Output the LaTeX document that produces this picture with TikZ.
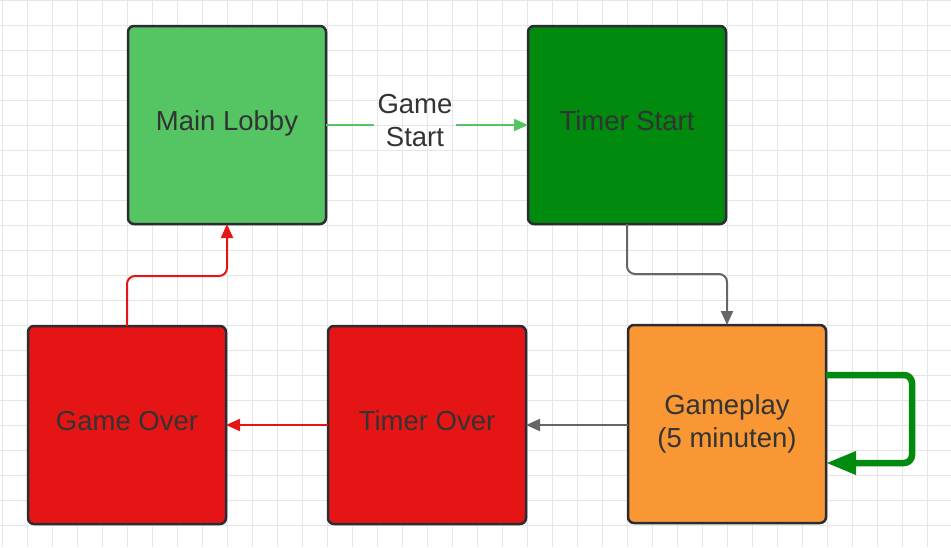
\documentclass[tikz,border=0pt]{standalone}
\usepackage{fontspec}
\setmainfont{Liberation Sans}
\usetikzlibrary{arrows.meta}
\definecolor{lobbygreen}{HTML}{55C463}
\definecolor{startgreen}{HTML}{008A0E}
\definecolor{overred}{HTML}{E51515}
\definecolor{playorange}{HTML}{F99734}
\definecolor{boxedge}{HTML}{2B2B33}
\definecolor{txtgray}{HTML}{333333}
\definecolor{linkgray}{HTML}{666666}
\definecolor{gridgray}{HTML}{E6E6E6}
\begin{document}
\begin{tikzpicture}[x=1pt,y=-1pt,
  lbl/.style={text=txtgray,align=center,font=\fontsize{27.5}{33}\selectfont},
  state/.style={lbl,draw=boxedge,line width=2.5pt,rounded corners=6pt,minimum size=198pt,
    inner sep=0pt,outer sep=0pt},
  oneline/.style={text depth=8pt},
  link/.style={line width=2pt,rounded corners=8pt,-{Triangle[length=14pt,width=12pt]}}]
\useasboundingbox (0,0) rectangle (951,547);
% Grid
\fill[white] (0,0) rectangle (951,547);
\foreach \x in {2,27,...,952} {
  \draw[gridgray,line width=1pt] (\x,0) -- (\x,547);
}
\foreach \y in {0,25,...,547} {
  \draw[gridgray,line width=1pt] (0,\y) -- (951,\y);
}

% States
\node[state,oneline,fill=lobbygreen] (lobby) at (227,125) {Main Lobby};
\node[state,oneline,fill=startgreen] (tstart) at (627,125) {Timer Start};
\node[state,fill=playorange] (play) at (727,424) {Gameplay\\(5 minuten)};
\node[state,oneline,fill=overred] (tover) at (427,425) {Timer Over};
\node[state,oneline,fill=overred] (gover) at (127,425) {Game Over};

% Transitions
\node[lbl] (gstart) at (415,121) {Game\\Start};
\draw[lobbygreen,line width=2pt] (lobby.east) -- (lobby.east -| gstart.west);
\draw[lobbygreen,link] (lobby.east -| gstart.east) -- (tstart.west);
\draw[linkgray,link] (tstart.south) -- ++(0,50) -| (play.north);
\draw[linkgray,link] (play.west |- tover.east) -- (tover.east);
\draw[overred,link] (tover.west) -- (gover.east);
\draw[overred,link] (gover.north) -- ++(0,-50) -| (lobby.south);

% Self loop
\draw[startgreen,line width=6.5pt,rounded corners=8pt,-{Triangle[length=30pt,width=22pt]}]
  ([yshift=49pt]play.east) -- ++(86,0) |- ([yshift=-39pt]play.east);
\end{tikzpicture}
\end{document}
